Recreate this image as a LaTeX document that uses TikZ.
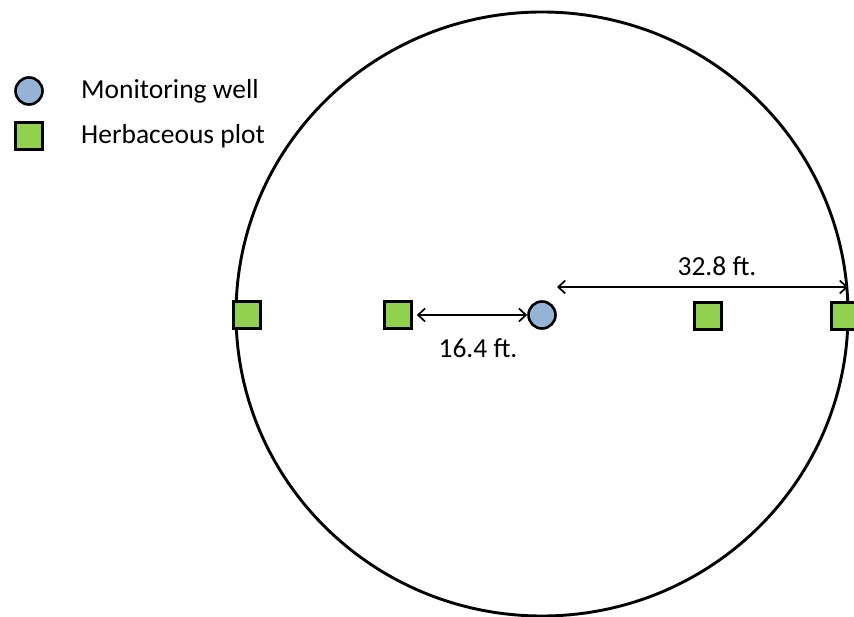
\documentclass[tikz,border=0pt]{standalone}
\usepackage{fontspec}
\setmainfont{Carlito}
\usetikzlibrary{arrows.meta}
\definecolor{wellblue}{RGB}{149,179,215}
\definecolor{plotgreen}{RGB}{146,208,80}
\tikzset{
  well/.style={circle, draw=black, line width=2.6pt, fill=wellblue, minimum size=27pt, inner sep=0pt},
  plot/.style={rectangle, draw=black, line width=2.6pt, fill=plotgreen, minimum size=27pt, inner sep=0pt},
  lbl/.style={font=\fontsize{27.5}{32}\selectfont, inner sep=0pt},
  dim/.style={line width=1.7pt, {Straight Barb[length=7pt,width=13pt,line width=1.7pt]}-{Straight Barb[length=7pt,width=13pt,line width=1.7pt]}}
}
\begin{document}
\begin{tikzpicture}[x=1pt, y=-1pt]
  \useasboundingbox (0,0) rectangle (854,617);
  % boundary of the sampling area
  \draw[line width=2.9pt] (542,314) ellipse [x radius=306, y radius=302];
  % legend
  \node[well] (lwell) at (29,91) {};
  \node[plot] (lplot) at (29,136) {};
  \node[lbl, anchor=west] (twell) at (81,91) {Monitoring well};
  \node[lbl, anchor=west] (tplot) at (81,136) {Herbaceous plot};
  % plots and well along the transect
  \node[plot] (p1) at (247,315) {};
  \node[plot] (p2) at (398,315) {};
  \node[well] (w) at (542,315) {};
  \node[plot] (p3) at (708,316) {};
  \node[plot] (p4) at (845,316) {};
  % distances
  \coordinate (c1) at (557,287);
  \coordinate (c2) at (848,287);
  \draw[dim] ([xshift=4pt]p2.east) -- (w.west);
  \draw[dim] (c1) -- (c2);
  \node[lbl] (d1) at (478,348) {16.4 ft.};
  \node[lbl] (d2) at (717,266) {32.8 ft.};
\end{tikzpicture}
\end{document}
